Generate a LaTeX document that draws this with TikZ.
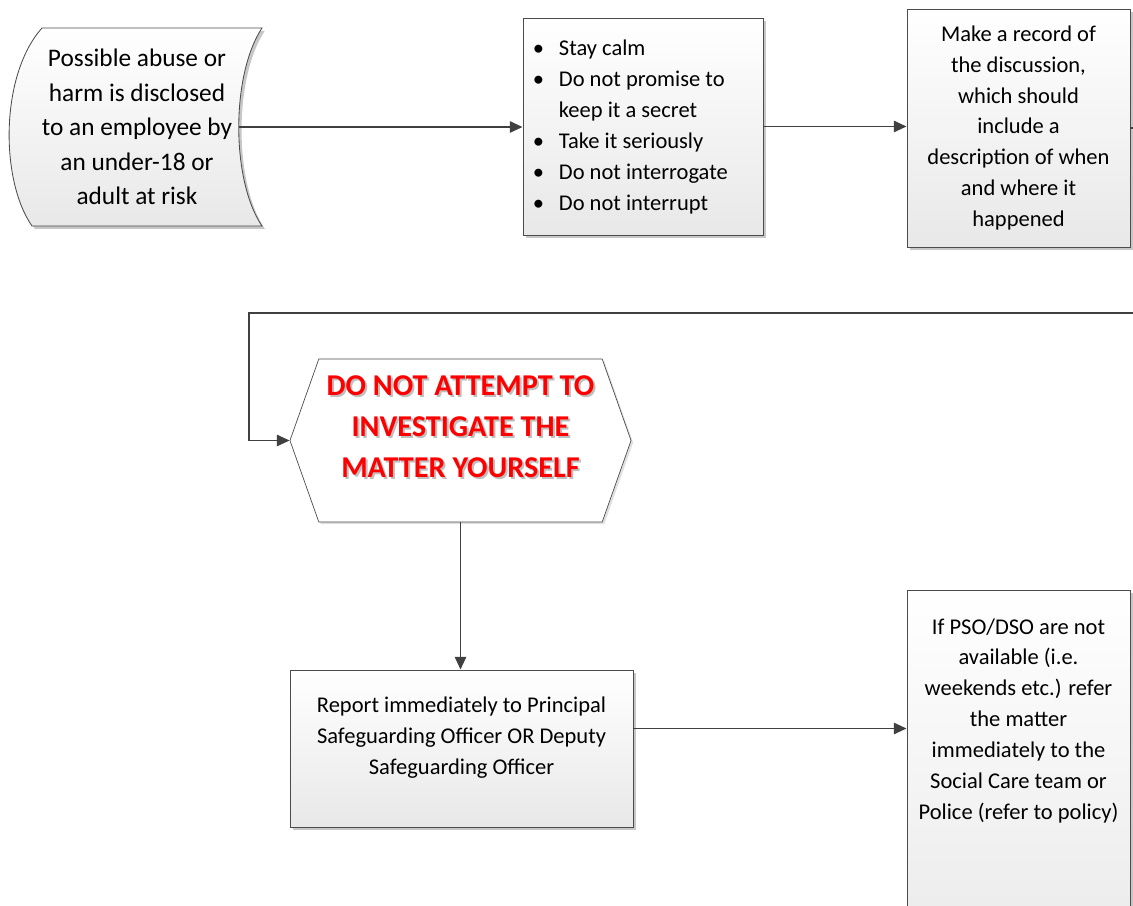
\documentclass[tikz,border=0pt]{standalone}
\usepackage{fontspec}
\setmainfont{Carlito}
\usepackage{xcolor}
\usepackage{tikz}
\usetikzlibrary{arrows.meta}
\usetikzlibrary{shapes.symbols}
\usetikzlibrary{shadows}
\usetikzlibrary{calc}

\newcommand{\warnmsg}{DO NOT ATTEMPT TO\\INVESTIGATE THE\\MATTER YOURSELF}

\begin{document}
\begin{tikzpicture}[
  x=0.025cm, y=-0.025cm,
  shade/.style={drop shadow={shadow xshift=2pt, shadow yshift=-2pt, fill=black!22, opacity=1}},
  box/.style={
      draw=black!70,
      line width=0.6pt,
      top color=white,
      bottom color=black!9,
      shade,
      font=\fontsize{16}{22}\selectfont,
      align=center,
      inner sep=0pt
  },
  warnbox/.style={
      signal, signal to=west and east, signal pointer angle=141,
      draw=black!70, line width=0.5pt, fill=white,
      drop shadow={shadow xshift=1.5pt, shadow yshift=-1.5pt, fill=black!12, opacity=1},
      minimum width=8.525cm, minimum height=4.075cm, inner sep=0pt
  },
  warntext/.style={font=\fontsize{21.5}{29}\selectfont\bfseries, align=center},
  arr/.style={-{Triangle[length=9pt, width=8pt]}, line width=1.3pt, draw=black!75}
]
\useasboundingbox (0,0) rectangle (1133,906);
\clip (0,0) rectangle (1133,906);

% first step: the disclosure
\draw[draw=black!70, line width=0.6pt, top color=white, bottom color=black!9, shade]
  (42,28) -- (262,28) .. controls (231,75) and (231,180) .. (262,226)
  -- (32,226) .. controls (0,180) and (0,75) .. cycle;
\node[font=\fontsize{18}{24.5}\selectfont, align=center] (disclose) at (137,127)
  {Possible abuse or\\harm is disclosed\\to an employee by\\an under-18 or\\adult at risk};
\coordinate (tapeout) at (239,127);

\node[box, minimum width=6cm, minimum height=5.425cm, text width=6cm, align=flush left] (bullets) at (643,126.5)
  {\begin{tabular}{@{\hspace{0.25cm}}p{0.65cm}@{}l@{}}
   \textbullet & Stay calm\\
   \textbullet & Do not promise to\\
               & keep it a secret\\
   \textbullet & Take it seriously\\
   \textbullet & Do not interrogate\\
   \textbullet & Do not interrupt
   \end{tabular}};
\node[box, minimum width=5.575cm, minimum height=5.95cm] (record) at (1018.5,128)
  {Make a record of\\the discussion,\\which should\\include a\\description of when\\and where it\\happened};

% warning
\node[warnbox] (hex) at (460.5,440.5) {};
\node[warntext, text=black!25] at ($(hex.center)+(2,-12)$) {\warnmsg};
\node[warntext, text=red] (warn) at ($(hex.center)+(0,-14)$) {\warnmsg};

% reporting
\node[box, minimum width=8.575cm, minimum height=3.925cm] (report) at (461.5,748.5)
  {\parbox[c][2.575cm][t]{8.3cm}{\centering Report immediately to Principal\\Safeguarding Officer OR Deputy\\Safeguarding Officer}};
\node[box, anchor=north, minimum width=5.575cm, minimum height=10cm] (police) at (1018.5,590)
  {\parbox[c][8.6cm][t]{5.4cm}{\centering If PSO/DSO are not\\available (i.e.\\weekends etc.) refer\\the matter\\immediately to the\\Social Care team or\\Police (refer to policy)}};

\coordinate (loopy) at (249,313);

\draw[arr] (tapeout) -- (tapeout -| bullets.west);
\draw[arr] (bullets.east) -- (bullets.east -| record.west);
\draw[arr] (record.east) -- ++(40,0) |- (loopy) |- (hex.west);
\draw[arr] (hex.south) -- (hex.south |- report.north);
\draw[arr] ($(report.east)+(0,-20)$) -- ($(report.east -| police.west)+(0,-20)$);

\end{tikzpicture}
\end{document}
